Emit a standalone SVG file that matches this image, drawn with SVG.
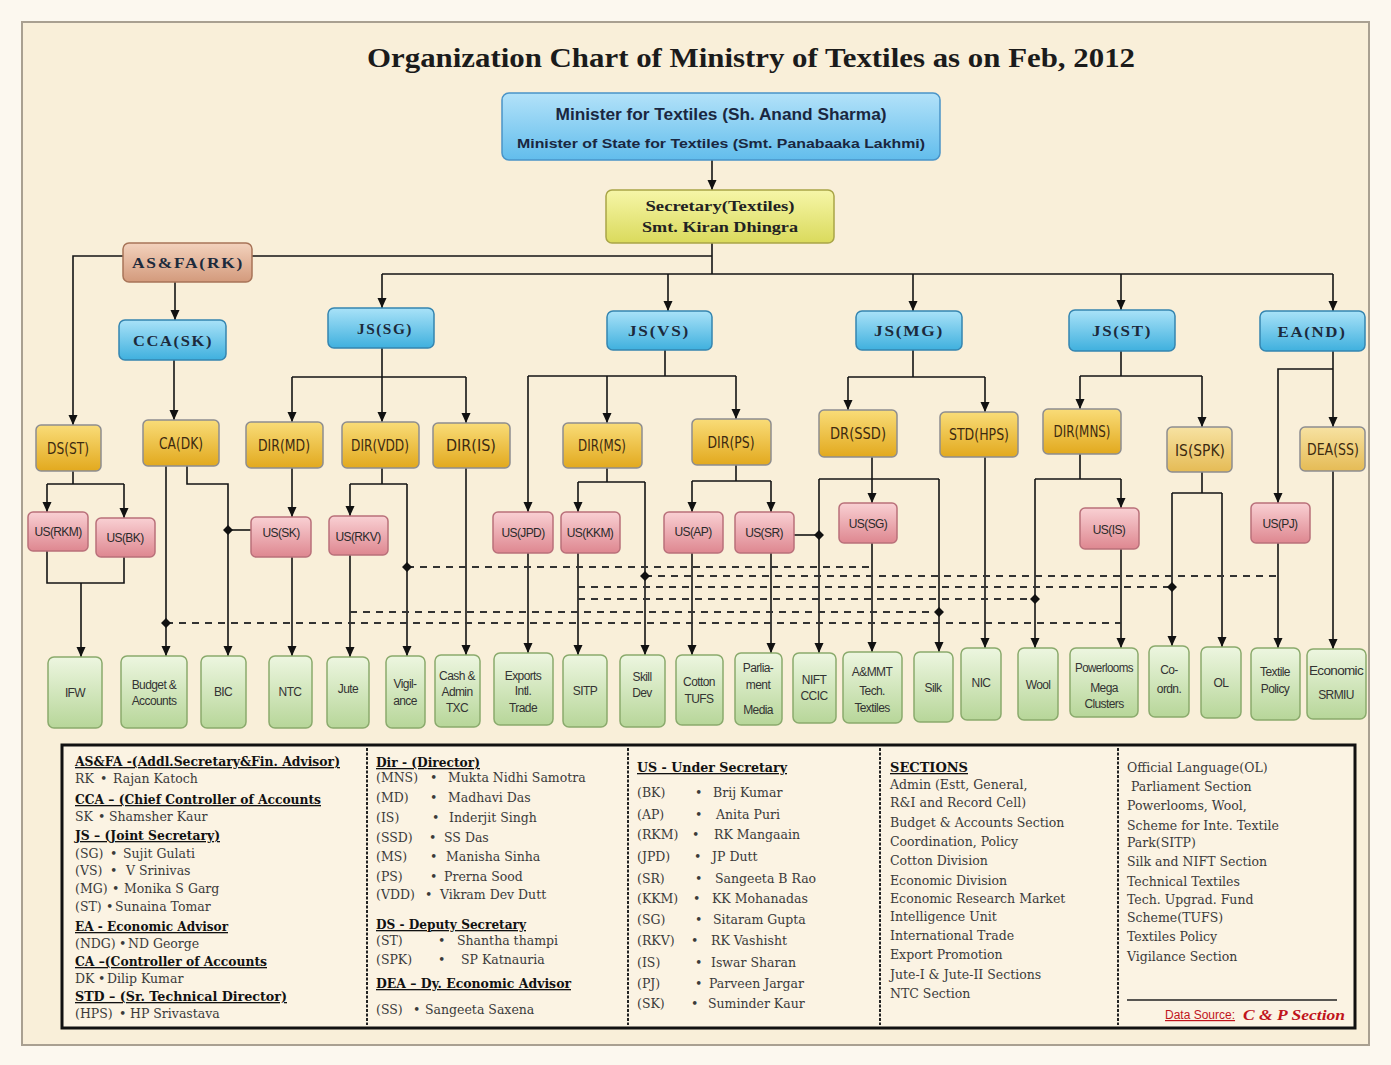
<svg xmlns="http://www.w3.org/2000/svg" width="1391" height="1065" viewBox="0 0 1391 1065">
<defs>
<linearGradient id="gBlue" x1="0" y1="0" x2="0" y2="1"><stop offset="0" stop-color="#a9e2f8"/><stop offset="1" stop-color="#3fb0de"/></linearGradient>
<linearGradient id="gMin" x1="0" y1="0" x2="0" y2="1"><stop offset="0" stop-color="#b3e2f9"/><stop offset="1" stop-color="#62bdec"/></linearGradient>
<linearGradient id="gSec" x1="0" y1="0" x2="0" y2="1"><stop offset="0" stop-color="#f6f6a8"/><stop offset="1" stop-color="#dada5c"/></linearGradient>
<linearGradient id="gSalmon" x1="0" y1="0" x2="0" y2="1"><stop offset="0" stop-color="#f3d2bd"/><stop offset="1" stop-color="#d39a7c"/></linearGradient>
<linearGradient id="gDir" x1="0" y1="0" x2="0" y2="1"><stop offset="0" stop-color="#f9dc78"/><stop offset="1" stop-color="#e2a91e"/></linearGradient>
<linearGradient id="gDir2" x1="0" y1="0" x2="0" y2="1"><stop offset="0" stop-color="#f7e2a2"/><stop offset="1" stop-color="#e5bb55"/></linearGradient>
<linearGradient id="gPink" x1="0" y1="0" x2="0" y2="1"><stop offset="0" stop-color="#f9d0d3"/><stop offset="1" stop-color="#de8790"/></linearGradient>
<linearGradient id="gGreen" x1="0" y1="0" x2="0" y2="1"><stop offset="0" stop-color="#edf6e0"/><stop offset="1" stop-color="#b7d699"/></linearGradient>
<marker id="arr" markerUnits="userSpaceOnUse" markerWidth="10" markerHeight="10" refX="10" refY="5" orient="auto"><path d="M0,0.5 L10,5 L0,9.5 z" fill="#111"/></marker>
<style>
.blue{fill:url(#gBlue);stroke:#3585b0;stroke-width:1.5}
.min{fill:url(#gMin);stroke:#4a94c8;stroke-width:1.5}
.sec{fill:url(#gSec);stroke:#a9a547;stroke-width:1.5}
.salmon{fill:url(#gSalmon);stroke:#a87458;stroke-width:1.5}
.dir{fill:url(#gDir);stroke:#8d8d90;stroke-width:1.5}
.dir2{fill:url(#gDir2);stroke:#8d8d90;stroke-width:1.5}
.pink{fill:url(#gPink);stroke:#b9707a;stroke-width:1.5}
.green{fill:url(#gGreen);stroke:#8aaa6c;stroke-width:1.5}
.tb{font-family:"Liberation Serif",serif;font-weight:bold;font-size:15px;fill:#1c2a3c;text-anchor:middle;letter-spacing:1.5px}
.td{font-family:"DejaVu Sans",sans-serif;font-stretch:condensed;font-size:15px;fill:#3d2a10;text-anchor:middle}
.tu{font-family:"Liberation Sans",sans-serif;font-size:12px;fill:#2a2a2a;text-anchor:middle;letter-spacing:-0.6px}
.tg{font-family:"Liberation Sans",sans-serif;font-size:12px;fill:#333;text-anchor:middle;letter-spacing:-0.6px}
.ln{fill:none;stroke:#151515;stroke-width:1.6}
.dash{fill:none;stroke:#333;stroke-width:2;stroke-dasharray:7 6}
.dot{fill:#111}
.lg{font-family:"DejaVu Serif",serif;font-size:12.5px;fill:#3a3a3a}
.lh{font-family:"DejaVu Serif",serif;font-size:13px;font-weight:bold;fill:#111;text-decoration:underline}
.div{stroke:#222;stroke-width:2;stroke-dasharray:3 1.5}
</style>
</defs>
<rect x="0" y="0" width="1391" height="1065" fill="#fcf8ef"/>
<rect x="22" y="22" width="1347" height="1023" fill="#f9efd9" stroke="#a9a091" stroke-width="2"/>
<text x="751" y="67" font-family="Liberation Serif,serif" font-weight="bold" font-size="28" fill="#1b1b1b" text-anchor="middle" textLength="768" lengthAdjust="spacingAndGlyphs">Organization Chart of Ministry of Textiles as on  Feb, 2012</text>

<g id="connectors">
<path class="ln" d="M712,160 V190" marker-end="url(#arr)"/>
<path class="ln" d="M712,243 V274 M712,256 H252 M382,274 H1333"/>
<path class="ln" d="M382,274 V308" marker-end="url(#arr)"/>
<path class="ln" d="M668,274 V311" marker-end="url(#arr)"/>
<path class="ln" d="M913,274 V311" marker-end="url(#arr)"/>
<path class="ln" d="M1121,274 V310" marker-end="url(#arr)"/>
<path class="ln" d="M1333,274 V311" marker-end="url(#arr)"/>
<path class="ln" d="M123,256 H73 V425" marker-end="url(#arr)"/>
<path class="ln" d="M175,282 V320" marker-end="url(#arr)"/>
<path class="ln" d="M174,360 V420" marker-end="url(#arr)"/>
<path class="ln" d="M382,348 V377 M292,377 H466"/>
<path class="ln" d="M292,377 V422" marker-end="url(#arr)"/>
<path class="ln" d="M382,377 V422" marker-end="url(#arr)"/>
<path class="ln" d="M466,377 V423" marker-end="url(#arr)"/>
<path class="ln" d="M665,350 V376 M528,376 H736"/>
<path class="ln" d="M607,376 V423" marker-end="url(#arr)"/>
<path class="ln" d="M736,376 V419" marker-end="url(#arr)"/>
<path class="ln" d="M528,376 V512" marker-end="url(#arr)"/>
<path class="ln" d="M528,553 V653" marker-end="url(#arr)"/>
<path class="ln" d="M913,350 V377 M848,377 H985"/>
<path class="ln" d="M848,377 V410" marker-end="url(#arr)"/>
<path class="ln" d="M985,377 V412" marker-end="url(#arr)"/>
<path class="ln" d="M1121,351 V376 M1080,376 H1202"/>
<path class="ln" d="M1080,376 V409" marker-end="url(#arr)"/>
<path class="ln" d="M1202,376 V427" marker-end="url(#arr)"/>
<path class="ln" d="M1333,351 V427" marker-end="url(#arr)"/>
<path class="ln" d="M1333,369 H1278 V503" marker-end="url(#arr)"/>
<path class="ln" d="M73,471 V484 M47,484 H124"/>
<path class="ln" d="M47,484 V512" marker-end="url(#arr)"/>
<path class="ln" d="M124,484 V518" marker-end="url(#arr)"/>
<path class="ln" d="M47,551 V583 H124 V557"/>
<path class="ln" d="M81,583 V657" marker-end="url(#arr)"/>
<path class="ln" d="M166,466 V656" marker-end="url(#arr)"/>
<path class="ln" d="M187,466 V484 H228 V656" marker-end="url(#arr)"/>
<path class="ln" d="M228,530 H251"/>
<path class="ln" d="M292,468 V517" marker-end="url(#arr)"/>
<path class="ln" d="M292,557 V656" marker-end="url(#arr)"/>
<path class="ln" d="M382,468 V484 M350,484 H407"/>
<path class="ln" d="M350,484 V516" marker-end="url(#arr)"/>
<path class="ln" d="M350,555 V657" marker-end="url(#arr)"/>
<path class="ln" d="M407,484 V656" marker-end="url(#arr)"/>
<path class="ln" d="M466,468 V655" marker-end="url(#arr)"/>
<path class="ln" d="M607,468 V482 M578,482 H645"/>
<path class="ln" d="M578,482 V512" marker-end="url(#arr)"/>
<path class="ln" d="M578,553 V655" marker-end="url(#arr)"/>
<path class="ln" d="M645,482 V655" marker-end="url(#arr)"/>
<path class="ln" d="M736,465 V481 M692,481 H771"/>
<path class="ln" d="M692,481 V512" marker-end="url(#arr)"/>
<path class="ln" d="M771,481 V512" marker-end="url(#arr)"/>
<path class="ln" d="M692,553 V655" marker-end="url(#arr)"/>
<path class="ln" d="M771,553 V653" marker-end="url(#arr)"/>
<path class="ln" d="M794,535 H819"/>
<path class="ln" d="M872,457 V503" marker-end="url(#arr)"/>
<path class="ln" d="M819,479 H939"/>
<path class="ln" d="M819,479 V653" marker-end="url(#arr)"/>
<path class="ln" d="M939,479 V652" marker-end="url(#arr)"/>
<path class="ln" d="M872,543 V652" marker-end="url(#arr)"/>
<path class="ln" d="M985,457 V648" marker-end="url(#arr)"/>
<path class="ln" d="M1080,454 V479 M1035,479 H1121"/>
<path class="ln" d="M1035,479 V648" marker-end="url(#arr)"/>
<path class="ln" d="M1121,479 V508" marker-end="url(#arr)"/>
<path class="ln" d="M1121,549 V648" marker-end="url(#arr)"/>
<path class="ln" d="M1202,472 V493 M1172,493 H1222"/>
<path class="ln" d="M1172,493 V646" marker-end="url(#arr)"/>
<path class="ln" d="M1222,493 V647" marker-end="url(#arr)"/>
<path class="ln" d="M1278,543 V648" marker-end="url(#arr)"/>
<path class="ln" d="M1333,471 V649" marker-end="url(#arr)"/>
<path class="dash" d="M407,567 H872"/>
<path class="dash" d="M645,576 H1278"/>
<path class="dash" d="M578,587 H1172"/>
<path class="dash" d="M578,599 H1035"/>
<path class="dash" d="M350,612 H939"/>
<path class="dash" d="M166,623 H1121"/>
<path class="dot" d="M407,562 l5,5 -5,5 -5,-5z M645,571 l5,5 -5,5 -5,-5z M1172,582 l5,5 -5,5 -5,-5z M1035,594 l5,5 -5,5 -5,-5z M939,607 l5,5 -5,5 -5,-5z M166,618 l5,5 -5,5 -5,-5z M228,525 l5,5 -5,5 -5,-5z M819,530 l5,5 -5,5 -5,-5z"/>
</g>

<g id="n-minister"><rect class="min" x="502" y="93" width="438" height="67" rx="7"/>
<text x="721" y="120" font-family="Liberation Sans,sans-serif" font-weight="bold" font-size="16" fill="#1a2740" text-anchor="middle" textLength="331" lengthAdjust="spacingAndGlyphs">Minister for Textiles (Sh. Anand Sharma)</text>
<text x="721" y="148" font-family="Liberation Sans,sans-serif" font-weight="bold" font-size="13.5" fill="#1a2740" text-anchor="middle" textLength="408" lengthAdjust="spacingAndGlyphs">Minister of State for Textiles (Smt. Panabaaka Lakhmi)</text></g>
<g id="n-secretary"><rect class="sec" x="606" y="190" width="228" height="53" rx="6"/>
<text x="720" y="211" font-family="Liberation Serif,serif" font-weight="bold" font-size="15" fill="#222" text-anchor="middle" textLength="149" lengthAdjust="spacingAndGlyphs">Secretary(Textiles)</text>
<text x="720" y="232" font-family="Liberation Serif,serif" font-weight="bold" font-size="15" fill="#222" text-anchor="middle" textLength="156" lengthAdjust="spacingAndGlyphs">Smt. Kiran Dhingra</text></g>

<g id="n-asfa"><rect class="salmon" x="123" y="243" width="129" height="39" rx="6"/><text class="tb" x="188" y="268" textLength="112" lengthAdjust="spacingAndGlyphs">AS&amp;FA(RK)</text></g>
<g id="n-cca"><rect class="blue" x="119" y="320" width="107" height="40" rx="6"/><text class="tb" x="173" y="346" textLength="80" lengthAdjust="spacingAndGlyphs">CCA(SK)</text></g>
<g id="n-jssg"><rect class="blue" x="328" y="308" width="106" height="40" rx="6"/><text class="tb" x="385" y="334" textLength="56" lengthAdjust="spacingAndGlyphs">JS(SG)</text></g>
<g id="n-jsvs"><rect class="blue" x="607" y="311" width="105" height="39" rx="6"/><text class="tb" x="659" y="336" textLength="62" lengthAdjust="spacingAndGlyphs">JS(VS)</text></g>
<g id="n-jsmg"><rect class="blue" x="856" y="311" width="106" height="39" rx="6"/><text class="tb" x="909" y="336" textLength="70" lengthAdjust="spacingAndGlyphs">JS(MG)</text></g>
<g id="n-jsst"><rect class="blue" x="1069" y="310" width="106" height="41" rx="6"/><text class="tb" x="1122" y="336" textLength="60" lengthAdjust="spacingAndGlyphs">JS(ST)</text></g>
<g id="n-eand"><rect class="blue" x="1260" y="311" width="105" height="40" rx="6"/><text class="tb" x="1312" y="337" textLength="69" lengthAdjust="spacingAndGlyphs">EA(ND)</text></g>

<g id="n-dsst"><rect class="dir" x="36" y="425" width="65" height="46" rx="5"/><text class="td" x="68" y="454" textLength="42" lengthAdjust="spacingAndGlyphs">DS(ST)</text></g>
<g id="n-cadk"><rect class="dir" x="143" y="420" width="76" height="46" rx="5"/><text class="td" x="181" y="449" textLength="44" lengthAdjust="spacingAndGlyphs">CA(DK)</text></g>
<g id="n-dirmd"><rect class="dir" x="246" y="422" width="77" height="46" rx="5"/><text class="td" x="284" y="451" textLength="52" lengthAdjust="spacingAndGlyphs">DIR(MD)</text></g>
<g id="n-dirvdd"><rect class="dir" x="342" y="422" width="77" height="46" rx="5"/><text class="td" x="380" y="451" textLength="58" lengthAdjust="spacingAndGlyphs">DIR(VDD)</text></g>
<g id="n-diris"><rect class="dir" x="433" y="423" width="77" height="45" rx="5"/><text class="td" x="471" y="451" textLength="50" lengthAdjust="spacingAndGlyphs">DIR(IS)</text></g>
<g id="n-dirms"><rect class="dir" x="563" y="423" width="79" height="45" rx="5"/><text class="td" x="602" y="451" textLength="48" lengthAdjust="spacingAndGlyphs">DIR(MS)</text></g>
<g id="n-dirps"><rect class="dir" x="692" y="419" width="79" height="46" rx="5"/><text class="td" x="731" y="448" textLength="47" lengthAdjust="spacingAndGlyphs">DIR(PS)</text></g>
<g id="n-drssd"><rect class="dir" x="819" y="410" width="78" height="47" rx="5"/><text class="td" x="858" y="439" textLength="56" lengthAdjust="spacingAndGlyphs">DR(SSD)</text></g>
<g id="n-stdhps"><rect class="dir" x="940" y="412" width="78" height="45" rx="5"/><text class="td" x="979" y="440" textLength="60" lengthAdjust="spacingAndGlyphs">STD(HPS)</text></g>
<g id="n-dirmns"><rect class="dir" x="1043" y="409" width="78" height="45" rx="5"/><text class="td" x="1082" y="437" textLength="57" lengthAdjust="spacingAndGlyphs">DIR(MNS)</text></g>
<g id="n-isspk"><rect class="dir2" x="1167" y="427" width="65" height="45" rx="5"/><text class="td" x="1200" y="456" textLength="50" lengthAdjust="spacingAndGlyphs">IS(SPK)</text></g>
<g id="n-deass"><rect class="dir2" x="1300" y="427" width="65" height="44" rx="5"/><text class="td" x="1333" y="455" textLength="52" lengthAdjust="spacingAndGlyphs">DEA(SS)</text></g>

<g id="n-usrkm"><rect class="pink" x="28" y="512" width="60" height="39" rx="5"/><text class="tu" x="58" y="536">US(RKM)</text></g>
<g id="n-usbk"><rect class="pink" x="96" y="518" width="59" height="39" rx="5"/><text class="tu" x="125" y="542">US(BK)</text></g>
<g id="n-ussk"><rect class="pink" x="251" y="517" width="60" height="40" rx="5"/><text class="tu" x="281" y="537">US(SK)</text></g>
<g id="n-usrkv"><rect class="pink" x="329" y="516" width="59" height="39" rx="5"/><text class="tu" x="358" y="541">US(RKV)</text></g>
<g id="n-usjpd"><rect class="pink" x="493" y="512" width="60" height="41" rx="5"/><text class="tu" x="523" y="537">US(JPD)</text></g>
<g id="n-uskkm"><rect class="pink" x="561" y="512" width="59" height="41" rx="5"/><text class="tu" x="590" y="537">US(KKM)</text></g>
<g id="n-usap"><rect class="pink" x="664" y="512" width="59" height="41" rx="5"/><text class="tu" x="693" y="536">US(AP)</text></g>
<g id="n-ussr"><rect class="pink" x="735" y="512" width="59" height="41" rx="5"/><text class="tu" x="764" y="537">US(SR)</text></g>
<g id="n-ussg"><rect class="pink" x="839" y="503" width="58" height="40" rx="5"/><text class="tu" x="868" y="528">US(SG)</text></g>
<g id="n-usis"><rect class="pink" x="1080" y="508" width="59" height="41" rx="5"/><text class="tu" x="1109" y="534">US(IS)</text></g>
<g id="n-uspj"><rect class="pink" x="1251" y="503" width="59" height="40" rx="5"/><text class="tu" x="1280" y="528">US(PJ)</text></g>

<g id="n-ifw"><rect class="green" x="48" y="657" width="54" height="71" rx="6"/><text class="tg" x="75" y="697">IFW</text></g>
<g id="n-budget"><rect class="green" x="121" y="656" width="66" height="72" rx="6"/><text class="tg" x="154" y="689">Budget &amp;</text><text class="tg" x="154" y="705">Accounts</text></g>
<g id="n-bic"><rect class="green" x="201" y="656" width="45" height="72" rx="6"/><text class="tg" x="223" y="696">BIC</text></g>
<g id="n-ntc"><rect class="green" x="269" y="656" width="43" height="72" rx="6"/><text class="tg" x="290" y="696">NTC</text></g>
<g id="n-jute"><rect class="green" x="327" y="657" width="42" height="71" rx="6"/><text class="tg" x="348" y="693">Jute</text></g>
<g id="n-vigil"><rect class="green" x="386" y="656" width="39" height="72" rx="6"/><text class="tg" x="405" y="688">Vigil-</text><text class="tg" x="405" y="705">ance</text></g>
<g id="n-cash"><rect class="green" x="435" y="655" width="45" height="72" rx="6"/><text class="tg" x="457" y="680">Cash &amp;</text><text class="tg" x="457" y="696">Admin</text><text class="tg" x="457" y="712">TXC</text></g>
<g id="n-exports"><rect class="green" x="494" y="653" width="59" height="72" rx="6"/><text class="tg" x="523" y="680">Exports</text><text class="tg" x="523" y="695">Intl.</text><text class="tg" x="523" y="712">Trade</text></g>
<g id="n-sitp"><rect class="green" x="563" y="655" width="44" height="72" rx="6"/><text class="tg" x="585" y="695">SITP</text></g>
<g id="n-skill"><rect class="green" x="620" y="655" width="45" height="72" rx="6"/><text class="tg" x="642" y="681">Skill</text><text class="tg" x="642" y="697">Dev</text></g>
<g id="n-cotton"><rect class="green" x="676" y="655" width="47" height="70" rx="6"/><text class="tg" x="699" y="686">Cotton</text><text class="tg" x="699" y="703">TUFS</text></g>
<g id="n-parl"><rect class="green" x="735" y="653" width="47" height="72" rx="6"/><text class="tg" x="758" y="672">Parlia-</text><text class="tg" x="758" y="689">ment</text><text class="tg" x="758" y="714">Media</text></g>
<g id="n-nift"><rect class="green" x="793" y="653" width="43" height="70" rx="6"/><text class="tg" x="814" y="684">NIFT</text><text class="tg" x="814" y="700">CCIC</text></g>
<g id="n-asmmt"><rect class="green" x="843" y="652" width="59" height="71" rx="6"/><text class="tg" x="872" y="676">A&amp;MMT</text><text class="tg" x="872" y="695">Tech.</text><text class="tg" x="872" y="712">Textiles</text></g>
<g id="n-silk"><rect class="green" x="914" y="652" width="39" height="70" rx="6"/><text class="tg" x="933" y="692">Silk</text></g>
<g id="n-nic"><rect class="green" x="961" y="648" width="40" height="72" rx="6"/><text class="tg" x="981" y="687">NIC</text></g>
<g id="n-wool"><rect class="green" x="1018" y="648" width="40" height="72" rx="6"/><text class="tg" x="1038" y="689">Wool</text></g>
<g id="n-power"><rect class="green" x="1070" y="648" width="68" height="69" rx="6"/><text class="tg" x="1104" y="672" textLength="58" lengthAdjust="spacingAndGlyphs">Powerlooms</text><text class="tg" x="1104" y="692">Mega</text><text class="tg" x="1104" y="708">Clusters</text></g>
<g id="n-coordn"><rect class="green" x="1149" y="646" width="40" height="71" rx="6"/><text class="tg" x="1169" y="674">Co-</text><text class="tg" x="1169" y="693">ordn.</text></g>
<g id="n-ol"><rect class="green" x="1201" y="647" width="40" height="71" rx="6"/><text class="tg" x="1221" y="687">OL</text></g>
<g id="n-textile"><rect class="green" x="1251" y="648" width="49" height="72" rx="6"/><text class="tg" x="1275" y="676">Textile</text><text class="tg" x="1275" y="693">Policy</text></g>
<g id="n-econ"><rect class="green" x="1307" y="649" width="59" height="70" rx="6"/><text class="tg" x="1336" y="675" textLength="54" lengthAdjust="spacingAndGlyphs">Economic</text><text class="tg" x="1336" y="699">SRMIU</text></g>

<g id="legend">
<rect x="62" y="745" width="1293" height="283" fill="#fbf3e3" stroke="#111" stroke-width="3"/>
<line class="div" x1="367" y1="748" x2="367" y2="1025"/>
<line class="div" x1="628" y1="748" x2="628" y2="1025"/>
<line class="div" x1="880" y1="748" x2="880" y2="1025"/>
<line class="div" x1="1118" y1="748" x2="1118" y2="1025"/>

<text class="lh" x="75" y="766" textLength="265" lengthAdjust="spacingAndGlyphs">AS&amp;FA -(Addl.Secretary&amp;Fin. Advisor)</text>
<text class="lg" y="783"><tspan x="75">RK</tspan><tspan x="100">•</tspan><tspan x="113">Rajan Katoch</tspan></text>
<text class="lh" x="75" y="804" textLength="246" lengthAdjust="spacingAndGlyphs">CCA – (Chief Controller of  Accounts</text>
<text class="lg" y="821"><tspan x="75">SK</tspan><tspan x="98">•</tspan><tspan x="109">Shamsher Kaur</tspan></text>
<text class="lh" x="75" y="840" textLength="145" lengthAdjust="spacingAndGlyphs">JS – (Joint Secretary)</text>
<text class="lg" y="858"><tspan x="75">(SG)</tspan><tspan x="110">•</tspan><tspan x="123">Sujit Gulati</tspan></text>
<text class="lg" y="875"><tspan x="75">(VS)</tspan><tspan x="110">•</tspan><tspan x="126">V Srinivas</tspan></text>
<text class="lg" y="893"><tspan x="75">(MG)</tspan><tspan x="112">•</tspan><tspan x="124">Monika S Garg</tspan></text>
<text class="lg" y="911"><tspan x="75">(ST)</tspan><tspan x="106">•</tspan><tspan x="115">Sunaina Tomar</tspan></text>
<text class="lh" x="75" y="931" textLength="153" lengthAdjust="spacingAndGlyphs">EA - Economic Advisor</text>
<text class="lg" y="948"><tspan x="75">(NDG)</tspan><tspan x="119">•</tspan><tspan x="128">ND George</tspan></text>
<text class="lh" x="75" y="966" textLength="192" lengthAdjust="spacingAndGlyphs">CA –(Controller of  Accounts</text>
<text class="lg" y="983"><tspan x="75">DK</tspan><tspan x="98">•</tspan><tspan x="107">Dilip Kumar</tspan></text>
<text class="lh" x="75" y="1001" textLength="212" lengthAdjust="spacingAndGlyphs">STD  –  (Sr. Technical Director)</text>
<text class="lg" y="1018"><tspan x="75">(HPS)</tspan><tspan x="119">•</tspan><tspan x="130">HP Srivastava</tspan></text>

<text class="lh" x="376" y="767" textLength="104" lengthAdjust="spacingAndGlyphs">Dir -  (Director)</text>
<text class="lg" y="782"><tspan x="376">(MNS)</tspan><tspan x="430">•</tspan><tspan x="448">Mukta Nidhi Samotra</tspan></text>
<text class="lg" y="802"><tspan x="376">(MD)</tspan><tspan x="430">•</tspan><tspan x="448">Madhavi  Das</tspan></text>
<text class="lg" y="822"><tspan x="376">(IS)</tspan><tspan x="432">•</tspan><tspan x="449">Inderjit Singh</tspan></text>
<text class="lg" y="842"><tspan x="376">(SSD)</tspan><tspan x="429">•</tspan><tspan x="444">SS Das</tspan></text>
<text class="lg" y="861"><tspan x="376">(MS)</tspan><tspan x="430">•</tspan><tspan x="446">Manisha Sinha</tspan></text>
<text class="lg" y="881"><tspan x="376">(PS)</tspan><tspan x="430">•</tspan><tspan x="444">Prerna Sood</tspan></text>
<text class="lg" y="899"><tspan x="376">(VDD)</tspan><tspan x="425">•</tspan><tspan x="440">Vikram Dev Dutt</tspan></text>
<text class="lh" x="376" y="929" textLength="150" lengthAdjust="spacingAndGlyphs">DS - Deputy Secretary</text>
<text class="lg" y="945"><tspan x="376">(ST)</tspan><tspan x="438">•</tspan><tspan x="457">Shantha thampi</tspan></text>
<text class="lg" y="964"><tspan x="376">(SPK)</tspan><tspan x="438">•</tspan><tspan x="461">SP Katnauria</tspan></text>
<text class="lh" x="376" y="988" textLength="195" lengthAdjust="spacingAndGlyphs">DEA – Dy. Economic Advisor</text>
<text class="lg" y="1014"><tspan x="376">(SS)</tspan><tspan x="413">•</tspan><tspan x="425">Sangeeta Saxena</tspan></text>

<text class="lh" x="637" y="772" textLength="150" lengthAdjust="spacingAndGlyphs">US -  Under Secretary</text>
<text class="lg" y="797"><tspan x="637">(BK)</tspan><tspan x="695">•</tspan><tspan x="713">Brij Kumar</tspan></text>
<text class="lg" y="819"><tspan x="637">(AP)</tspan><tspan x="695">•</tspan><tspan x="716">Anita Puri</tspan></text>
<text class="lg" y="839"><tspan x="637">(RKM)</tspan><tspan x="692">•</tspan><tspan x="714">RK Mangaain</tspan></text>
<text class="lg" y="861"><tspan x="637">(JPD)</tspan><tspan x="694">•</tspan><tspan x="712">JP Dutt</tspan></text>
<text class="lg" y="883"><tspan x="637">(SR)</tspan><tspan x="695">•</tspan><tspan x="715">Sangeeta B Rao</tspan></text>
<text class="lg" y="903"><tspan x="637">(KKM)</tspan><tspan x="693">•</tspan><tspan x="712">KK Mohanadas</tspan></text>
<text class="lg" y="924"><tspan x="637">(SG)</tspan><tspan x="695">•</tspan><tspan x="713">Sitaram Gupta</tspan></text>
<text class="lg" y="945"><tspan x="637">(RKV)</tspan><tspan x="691">•</tspan><tspan x="711">RK Vashisht</tspan></text>
<text class="lg" y="967"><tspan x="637">(IS)</tspan><tspan x="695">•</tspan><tspan x="711">Iswar Sharan</tspan></text>
<text class="lg" y="988"><tspan x="637">(PJ)</tspan><tspan x="695">•</tspan><tspan x="709">Parveen Jargar</tspan></text>
<text class="lg" y="1008"><tspan x="637">(SK)</tspan><tspan x="691">•</tspan><tspan x="708">Suminder Kaur</tspan></text>

<text class="lh" x="890" y="772" textLength="78" lengthAdjust="spacingAndGlyphs">SECTIONS</text>
<text class="lg" x="890" y="789">Admin (Estt, General,</text>
<text class="lg" x="890" y="807">R&amp;I and Record Cell)</text>
<text class="lg" x="890" y="827">Budget &amp; Accounts Section</text>
<text class="lg" x="890" y="846">Coordination,  Policy</text>
<text class="lg" x="890" y="865">Cotton Division</text>
<text class="lg" x="890" y="885">Economic Division</text>
<text class="lg" x="890" y="903">Economic Research Market</text>
<text class="lg" x="890" y="921">Intelligence Unit</text>
<text class="lg" x="890" y="940">International Trade</text>
<text class="lg" x="890" y="959">Export Promotion</text>
<text class="lg" x="890" y="979">Jute-I &amp; Jute-II Sections</text>
<text class="lg" x="890" y="998">NTC Section</text>

<text class="lg" x="1127" y="772">Official Language(OL)</text>
<text class="lg" x="1131" y="791">Parliament Section</text>
<text class="lg" x="1127" y="810">Powerlooms, Wool,</text>
<text class="lg" x="1127" y="830">Scheme for Inte. Textile</text>
<text class="lg" x="1127" y="847">Park(SITP)</text>
<text class="lg" x="1127" y="866">Silk and NIFT Section</text>
<text class="lg" x="1127" y="886">Technical Textiles</text>
<text class="lg" x="1127" y="904">Tech. Upgrad. Fund</text>
<text class="lg" x="1127" y="922">Scheme(TUFS)</text>
<text class="lg" x="1127" y="941">Textiles Policy</text>
<text class="lg" x="1127" y="961">Vigilance Section</text>
<line x1="1127" y1="1000" x2="1337" y2="1000" stroke="#222" stroke-width="1.5"/>
<text x="1165" y="1019" font-family="Liberation Sans,sans-serif" font-size="12" fill="#c0141c" text-decoration="underline">Data Source:</text>
<text x="1243" y="1020" font-family="Liberation Serif,serif" font-size="15" font-weight="bold" font-style="italic" fill="#c0141c" textLength="102" lengthAdjust="spacingAndGlyphs">C &amp; P Section</text>
</g>
</svg>
